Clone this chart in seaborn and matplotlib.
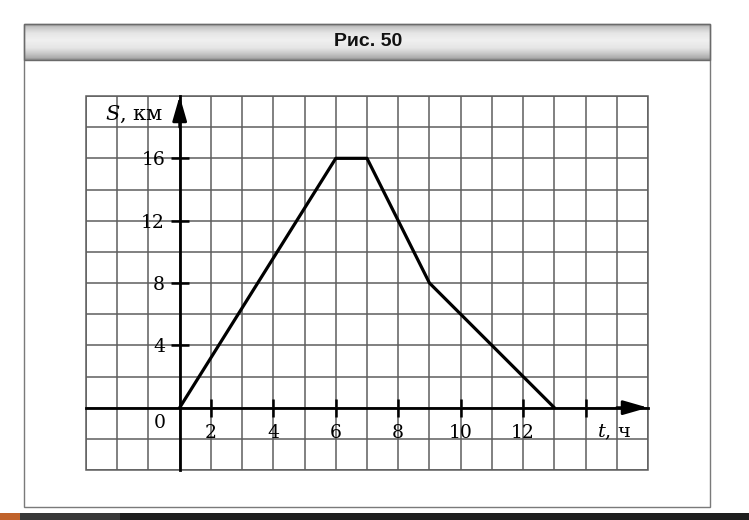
import numpy as np
import pandas as pd
import matplotlib
matplotlib.use("Agg")
import matplotlib.pyplot as plt
from matplotlib.patches import Rectangle
import seaborn as sns

# ---- data ----
t_hours = [1, 6, 7, 9, 13]
s_km = [0, 16, 16, 8, 0]
x_tick_values = [2, 4, 6, 8, 10, 12, 14]
x_tick_labels = ["2", "4", "6", "8", "10", "12", ""]
y_tick_values = [4, 8, 12, 16]
y_tick_labels = ["4", "8", "12", "16"]
title_text = "Рис. 50"
y_label = r"$S$, км"
x_label = r"$t$, ч"

sns.set_theme(style="white")
plt.rcParams["font.family"] = ["DejaVu Serif"]
plt.rcParams["mathtext.fontset"] = "dejavuserif"

W, H = 749, 520
fig = plt.figure(figsize=(W / 100, H / 100), dpi=100)
fig.patch.set_facecolor("white")

# ---- page decoration (pixel coordinates) ----
bg = fig.add_axes([0, 0, 1, 1], zorder=0)
bg.set_xlim(0, W)
bg.set_ylim(H, 0)
bg.axis("off")

rows = np.arange(24, 61)
prof = np.interp(rows, [24, 27, 33, 40, 48, 54, 58, 60],
                 [0.66, 0.78, 0.9, 0.94, 0.9, 0.78, 0.68, 0.55])
grad = np.tile(prof[:, None], (1, 50))
bg.imshow(grad, cmap="gray", vmin=0, vmax=1, extent=(24, 710, 60, 24),
          aspect="auto", origin="upper", interpolation="bilinear")
bg.add_patch(Rectangle((24, 24), 686, 483, fill=False, ec="#7a7a7a", lw=1.0))
bg.add_patch(Rectangle((24, 24), 686, 36, fill=False, ec="#6a6a6a", lw=1.0))
bg.text(368, 42, title_text, ha="center", va="center", fontsize=14,
        fontweight="bold", family=["Liberation Sans"], fontstretch="condensed",
        color="#111111")
bg.add_patch(Rectangle((0, 513), W, 7, color="#1e1e1e", lw=0))
bg.add_patch(Rectangle((20, 513), 100, 7, color="#383838", lw=0))
bg.add_patch(Rectangle((0, 513), 20, 7, color="#c0622a", lw=0))

# ---- chart ----
ax = fig.add_axes([86 / W, 50 / H, 562 / W, 374 / H], zorder=1)
ax.set_facecolor("white")
df = pd.DataFrame({"t": t_hours, "S": s_km})
sns.lineplot(data=df, x="t", y="S", ax=ax, color="black", lw=2.3, zorder=4)
ax.set_xlim(-2, 16)
ax.set_ylim(-4, 20)
ax.set_xlabel("")
ax.set_ylabel("")

ax.set_xticks(x_tick_values)
ax.set_xticklabels(x_tick_labels)
ax.set_xticks(np.arange(-2, 17, 1), minor=True)
ax.set_yticks(y_tick_values)
ax.set_yticklabels(y_tick_labels)
ax.set_yticks(np.arange(-4, 21, 2), minor=True)

ax.set_axisbelow(True)
ax.grid(which="both", color="#5e5e5e", lw=1.1)
ax.tick_params(which="minor", length=0, bottom=False, left=False)
ax.tick_params(which="major", direction="inout", length=13, width=1.8,
               colors="black", labelsize=13.5, bottom=True, left=True,
               top=False, right=False)
ax.tick_params(axis="x", pad=5)
ax.tick_params(axis="y", pad=4)

for side in ("top", "right"):
    ax.spines[side].set_visible(False)
ax.spines["left"].set_position(("data", 1))
ax.spines["bottom"].set_position(("data", 0))
for side in ("left", "bottom"):
    ax.spines[side].set_linewidth(2.0)
    ax.spines[side].set_color("black")
    ax.spines[side].set_zorder(3)

ax.add_patch(Rectangle((0, 0), 1, 1, transform=ax.transAxes, fill=False,
                       ec="#5e5e5e", lw=1.1, clip_on=False, zorder=1))

arrow_style = dict(arrowstyle="-|>,head_length=1.25,head_width=0.36",
                   color="black", lw=2.0, shrinkA=0, shrinkB=0)
ax.annotate("", xy=(16, 0), xytext=(15.0, 0), arrowprops=arrow_style,
            annotation_clip=False)
ax.annotate("", xy=(1, 20), xytext=(1, 18.0), arrowprops=arrow_style,
            annotation_clip=False)

ax.text(0.46, 18.85, y_label, ha="right", va="center", fontsize=15, color="black")
ax.text(14.37, -1.6, x_label, ha="left", va="center", fontsize=14, color="black")
ax.text(0.36, -0.96, "0", ha="center", va="center", fontsize=13.5, color="black")

fig.savefig("out.png", dpi=100)
